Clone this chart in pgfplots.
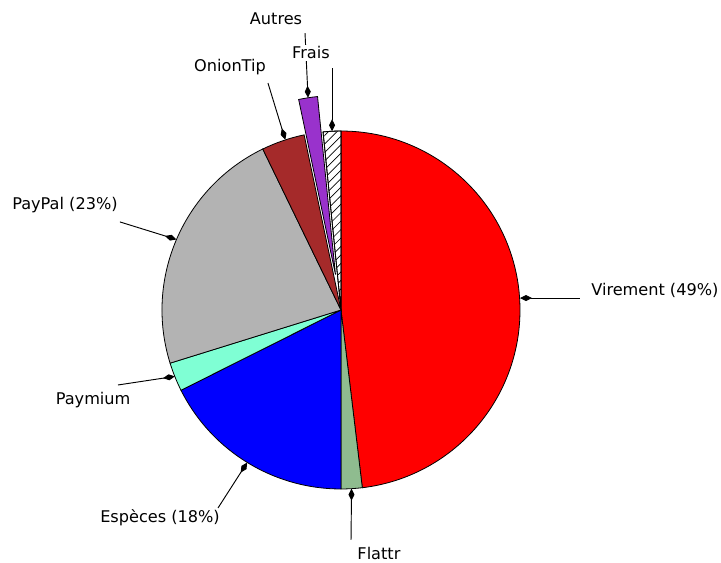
\documentclass[border=0pt]{standalone}
\usepackage{pgfplots}
\pgfplotsset{compat=1.18}
\usepackage{fontspec}
\setmainfont{DejaVu Sans}
\usetikzlibrary{patterns,patterns.meta,arrows.meta}
\definecolor{cVir}{HTML}{FF0000}
\definecolor{cFla}{HTML}{8FBC8F}
\definecolor{cEsp}{HTML}{0000FF}
\definecolor{cPay}{HTML}{7FFFD4}
\definecolor{cPP}{HTML}{B3B3B3}
\definecolor{cOni}{HTML}{A52A2A}
\definecolor{cAut}{HTML}{9932CC}
\def\R{134.25pt}
% slice: cumulative percent before, percent, style, explode dx, dy
\newcommand{\slice}[5]{%
  \filldraw[#3, draw=black, line width=0.6pt] (axis cs:#4,#5) -- (axis cs:{#4+cos(90-3.6*#1)},{#5+sin(90-3.6*#1)})
    arc[start angle={90-3.6*#1}, end angle={90-3.6*(#1+#2)}, radius=\R] -- cycle;}
\newcommand{\ann}[4]{%
  \draw[line width=0.7pt, -{Diamond[length=9pt,width=4.5pt]}] (axis cs:#1,#2) -- (axis cs:#3,#4);}
\begin{document}
\begin{tikzpicture}
\begin{axis}[scale only axis, width=540.75pt, height=421.5pt,
  xmin=-1.905, xmax=2.123, ymin=-1.408, ymax=1.732, hide axis, clip=false]
\path[draw=none] (rel axis cs:0,0) rectangle (rel axis cs:1,1);
% data (percent): Virement 48.1, Flattr 1.9, Especes 17.6, Paymium 2.6, PayPal 22.6, OnionTip 3.9, Autres 1.7, Frais 1.6
\slice{0}{48.1}{fill=cVir}{0}{0}
\slice{48.1}{1.9}{fill=cFla}{0}{0}
\slice{50.0}{17.6}{fill=cEsp}{0}{0}
\slice{67.6}{2.6}{fill=cPay}{0}{0}
\slice{70.2}{22.6}{fill=cPP}{0}{0}
\slice{92.8}{3.9}{fill=cOni}{0}{0}
\slice{96.7}{1.7}{fill=cAut}{-0.0307}{0.1976}
\slice{98.4}{1.6}{fill=white}{0}{0}
\slice{98.4}{1.6}{pattern={Lines[angle=45,distance=4.5pt,line width=0.5pt]}}{0}{0}
% annotations
\ann{1.335}{0.067}{1.0}{0.067}
\ann{0.056}{-1.285}{0.059}{-0.998}
\ann{-0.687}{-1.106}{-0.524}{-0.852}
\ann{-1.246}{-0.419}{-0.928}{-0.371}
\ann{-1.235}{0.492}{-0.919}{0.394}
\ann{-0.408}{1.268}{-0.311}{0.951}
\ann{-0.201}{1.547}{-0.184}{1.186}
\ann{-0.050}{1.352}{-0.050}{0.999}
\begin{scope}[font=\fontsize{12.1}{14}\selectfont]
\node[anchor=west, inner sep=0pt] at (axis cs:1.397,0.112) {Virement (49\%)};
\node[inner sep=0pt] at (axis cs:0.212,-1.358) {Flattr};
\node[inner sep=0pt] at (axis cs:-1.011,-1.162) {Espèces (18\%)};
\node[inner sep=0pt] at (axis cs:-1.385,-0.503) {Paymium};
\node[inner sep=0pt] at (axis cs:-1.542,0.587) {PayPal (23\%)};
\node[inner sep=0pt] at (axis cs:-0.620,1.358) {OnionTip};
\node[inner sep=0pt, fill=white] at (axis cs:-0.363,1.626) {Autres};
\node[inner sep=1pt, fill=white] at (axis cs:-0.168,1.436) {Frais};
\end{scope}
\end{axis}
\end{tikzpicture}
\end{document}
